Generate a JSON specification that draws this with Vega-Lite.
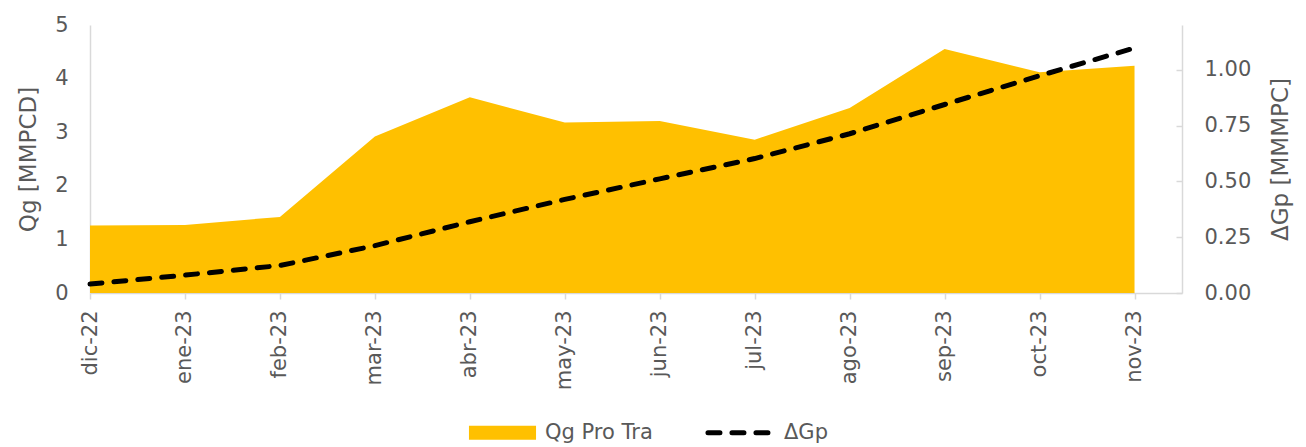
{
  "$schema": "https://vega.github.io/schema/vega-lite/v6.json",
  "autosize": {"type": "none"},
  "padding": {"left": 90, "top": 25, "right": 124, "bottom": 154},
  "width": 1092,
  "height": 268,
  "background": "white",
  "config": {
    "view": {"stroke": null},
    "font": "DejaVu Sans",
    "axis": {"labelColor": "#595959", "titleColor": "#595959", "titleFontWeight": "normal", "domainColor": "#d9d9d9", "tickColor": "#d9d9d9", "grid": false, "labelFont": "DejaVu Sans", "titleFont": "DejaVu Sans"},
    "legend": {"labelColor": "#595959", "labelFont": "DejaVu Sans"}
  },
  "data": {
    "values": [
      {"n": 0, "mes": "dic-22", "Qg": 1.26, "dGp": 0.040},
      {"n": 1, "mes": "ene-23", "Qg": 1.27, "dGp": 0.080},
      {"n": 2, "mes": "feb-23", "Qg": 1.42, "dGp": 0.123},
      {"n": 3, "mes": "mar-23", "Qg": 2.92, "dGp": 0.212},
      {"n": 4, "mes": "abr-23", "Qg": 3.65, "dGp": 0.319},
      {"n": 5, "mes": "may-23", "Qg": 3.18, "dGp": 0.419},
      {"n": 6, "mes": "jun-23", "Qg": 3.21, "dGp": 0.511},
      {"n": 7, "mes": "jul-23", "Qg": 2.86, "dGp": 0.602},
      {"n": 8, "mes": "ago-23", "Qg": 3.45, "dGp": 0.713},
      {"n": 9, "mes": "sep-23", "Qg": 4.55, "dGp": 0.844},
      {"n": 10, "mes": "oct-23", "Qg": 4.12, "dGp": 0.973},
      {"n": 11, "mes": "nov-23", "Qg": 4.24, "dGp": 1.097}
    ]
  },
  "encoding": {
    "x": {
      "field": "n",
      "type": "quantitative",
      "scale": {"domain": [0, 11.5], "nice": false, "zero": false},
      "axis": {
        "title": null,
        "values": [0, 1, 2, 3, 4, 5, 6, 7, 8, 9, 10, 11],
        "labelExpr": "['dic-22','ene-23','feb-23','mar-23','abr-23','may-23','jun-23','jul-23','ago-23','sep-23','oct-23','nov-23'][datum.value]",
        "labelAngle": -90,
        "labelAlign": "right",
        "labelBaseline": "middle",
        "labelFontSize": 21,
        "labelPadding": 11,
        "tickSize": 6,
        "tickWidth": 1.5,
        "domainWidth": 1.5
      }
    }
  },
  "layer": [
    {
      "mark": {"type": "area", "color": "#FFC000", "interpolate": "linear"},
      "encoding": {
        "y": {
          "field": "Qg",
          "type": "quantitative",
          "scale": {"domain": [0, 5], "nice": false},
          "axis": {
            "title": "Qg [MMPCD]",
            "orient": "left",
            "values": [0, 1, 2, 3, 4, 5],
            "format": "d",
            "domainWidth": 1.5,
            "ticks": false,
            "labelFontSize": 21,
            "labelPadding": 22,
            "titleFontSize": 23,
            "titlePadding": 14
          }
        },
        "color": {
          "datum": "Qg Pro Tra",
          "type": "nominal",
          "scale": {"domain": ["Qg Pro Tra", "ΔGp"], "range": ["#FFC000", "#000000"]},
          "legend": {
            "title": null,
            "orient": "none",
            "legendX": 402,
            "legendY": 397,
            "direction": "horizontal",
            "labelFontSize": 21,
            "labelOffset": 32,
            "columnPadding": 44,
            "symbolSize": 4500,
            "symbolStrokeWidth": 5,
            "encode": {
              "symbols": {
                "update": {
                  "shape": {"signal": "datum.value === 'ΔGp' ? 'stroke' : 'M-1,-0.21H1V0.21H-1Z'"},
                  "strokeDash": {"signal": "datum.value === 'ΔGp' ? [12, 12] : [1, 0]"},
                  "strokeCap": {"value": "round"},
                  "strokeWidth": {"signal": "datum.value === 'ΔGp' ? 5 : 0"},
                  "fill": {"signal": "datum.value === 'ΔGp' ? 'transparent' : '#FFC000'"},
                  "stroke": {"signal": "datum.value === 'ΔGp' ? '#000000' : '#FFC000'"},
                  "opacity": {"value": 1}
                }
              }
            }
          }
        }
      }
    },
    {
      "mark": {"type": "line", "color": "#000000", "strokeWidth": 5, "strokeDash": [12, 12], "strokeCap": "round"},
      "encoding": {
        "y": {
          "field": "dGp",
          "type": "quantitative",
          "scale": {"domain": [0, 1.2], "nice": false},
          "axis": {
            "title": "ΔGp [MMMPC]",
            "titleAngle": -90,
            "orient": "right",
            "values": [0, 0.25, 0.5, 0.75, 1],
            "format": ".2f",
            "domainWidth": 1.5,
            "tickSize": -6,
            "tickWidth": 1.5,
            "labelFontSize": 21,
            "labelPadding": 28,
            "titleFontSize": 23,
            "titlePadding": 42
          }
        },
        "color": {"datum": "ΔGp", "type": "nominal"}
      }
    }
  ],
  "resolve": {"scale": {"y": "independent"}}
}
